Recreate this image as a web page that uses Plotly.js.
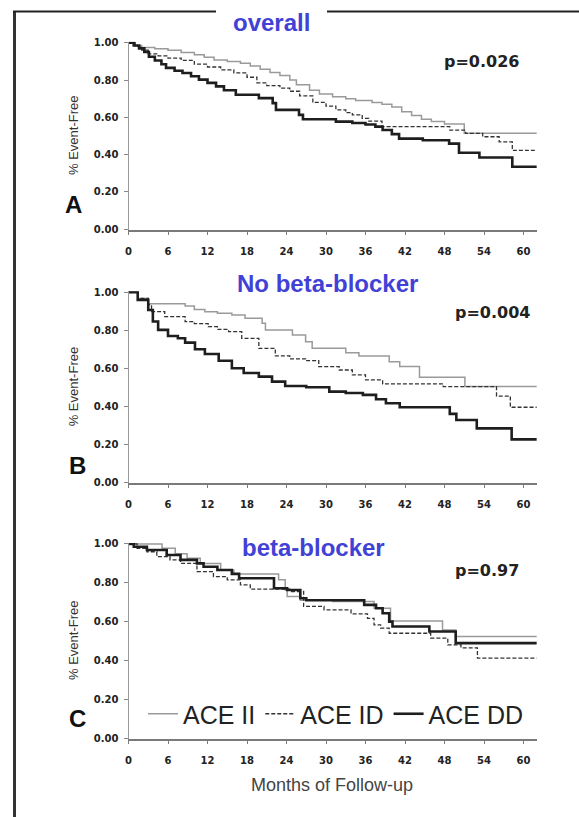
<!DOCTYPE html>
<html>
<head>
<meta charset="utf-8">
<script src="https://cdn.plot.ly/plotly-3.0.1.min.js"></script>
<style>html,body{margin:0;padding:0;background:#fff;}#chart{width:579px;height:817px;}</style>
</head>
<body>
<div id="chart"></div>
<script>
// ---------- DATA (months, event-free proportion) ----------
const seriesNames = ['ACE II', 'ACE ID', 'ACE DD'];
const panelTitles = ['overall', 'No beta-blocker', 'beta-blocker'];
const panelLetters = ['A', 'B', 'C'];
const pValues = ['p=0.026', 'p=0.004', 'p=0.97'];
const xTickVals = [0, 6, 12, 18, 24, 30, 36, 42, 48, 54, 60];
const yTickVals = [0, 0.2, 0.4, 0.6, 0.8, 1.0];
const yTickText = ['0.00', '0.20', '0.40', '0.60', '0.80', '1.00'];
const xTitle = 'Months of Follow-up';
const yTitle = '% Event-Free';

// Panel A: overall
const A_II_t = [0, 1, 2, 4, 6, 8, 10, 11.5, 13, 15, 17, 18.5, 20, 21.5, 23, 24.5, 25.5, 27.5, 29, 31, 33, 34.5, 37, 38.5, 40, 41.5, 43, 44.5, 46, 48, 51, 62];
const A_II_s = [1, 0.985, 0.975, 0.968, 0.96, 0.948, 0.935, 0.922, 0.908, 0.9, 0.89, 0.875, 0.858, 0.84, 0.825, 0.8, 0.775, 0.745, 0.725, 0.71, 0.7, 0.69, 0.68, 0.67, 0.655, 0.63, 0.61, 0.59, 0.578, 0.565, 0.515, 0.515];
const A_ID_t = [0, 1, 2, 3, 4.5, 6, 8, 10, 12, 14, 16, 18, 19.5, 21, 23, 24.5, 26, 28, 30, 31.5, 33, 34, 35.5, 36.5, 38.5, 48.8, 51.2, 53.8, 56.3, 58.3, 62];
const A_ID_s = [1, 0.98, 0.96, 0.94, 0.93, 0.918, 0.905, 0.885, 0.87, 0.855, 0.838, 0.815, 0.785, 0.77, 0.757, 0.74, 0.715, 0.68, 0.66, 0.64, 0.625, 0.613, 0.595, 0.58, 0.55, 0.532, 0.514, 0.496, 0.468, 0.423, 0.423];
const A_DD_t = [0, 0.8, 1.6, 2.4, 3.1, 4, 5, 5.7, 7, 8.2, 9.5, 10.7, 12, 13.3, 14.5, 16.3, 19.8, 21.9, 22.4, 25.9, 26.5, 31.5, 34, 36, 37.5, 38.6, 40, 41.1, 44.7, 48.7, 50.2, 53.3, 58.3, 62];
const A_DD_s = [1, 0.985, 0.97, 0.95, 0.925, 0.905, 0.885, 0.865, 0.85, 0.838, 0.82, 0.802, 0.785, 0.766, 0.745, 0.721, 0.703, 0.676, 0.64, 0.613, 0.59, 0.577, 0.57, 0.562, 0.55, 0.532, 0.51, 0.486, 0.477, 0.459, 0.41, 0.385, 0.335, 0.335];

// Panel B: no beta-blocker
const B_II_t = [0, 1.4, 3, 8.6, 10, 11.6, 13.5, 15.7, 17.7, 20.3, 20.8, 24.9, 26.9, 27.9, 33, 35, 39.6, 41.2, 44.2, 51.1, 62];
const B_II_s = [1, 0.968, 0.94, 0.928, 0.91, 0.898, 0.89, 0.881, 0.863, 0.837, 0.802, 0.775, 0.74, 0.705, 0.682, 0.665, 0.635, 0.609, 0.553, 0.504, 0.504];
const B_ID_t = [0, 1.4, 3, 3.5, 5.5, 8.6, 10, 12.1, 13.5, 15.2, 17.2, 19.8, 22.3, 24.5, 26.9, 28.9, 32, 34, 36, 38.6, 47.8, 55.9, 58, 62];
const B_ID_s = [1, 0.968, 0.935, 0.898, 0.872, 0.846, 0.835, 0.819, 0.805, 0.793, 0.758, 0.705, 0.665, 0.65, 0.64, 0.609, 0.591, 0.565, 0.539, 0.518, 0.504, 0.454, 0.395, 0.395];
const B_DD_t = [0, 1.4, 3, 3.7, 4.5, 6, 7.5, 8.6, 10.1, 11.6, 13.7, 15.7, 17.5, 19.8, 21.8, 23.8, 27, 30.5, 33, 35.6, 37.6, 39.1, 41.2, 48.8, 49.8, 52.9, 58.2, 62];
const B_DD_s = [1, 0.96, 0.907, 0.846, 0.802, 0.77, 0.758, 0.735, 0.7, 0.675, 0.64, 0.6, 0.575, 0.556, 0.53, 0.507, 0.5, 0.477, 0.47, 0.46, 0.437, 0.416, 0.395, 0.36, 0.328, 0.284, 0.226, 0.226];

// Panel C: beta-blocker
const C_II_t = [0, 5.1, 7.1, 8.9, 10.9, 14, 16, 22.8, 23.8, 24.1, 26.1, 31, 37.3, 39.8, 47.7, 49.7, 62];
const C_II_s = [1, 0.978, 0.949, 0.926, 0.9, 0.866, 0.845, 0.815, 0.763, 0.729, 0.71, 0.703, 0.669, 0.603, 0.557, 0.523, 0.523];
const C_ID_t = [0, 1.3, 2.8, 4.3, 6.3, 7.9, 10.4, 12.9, 15, 17, 18.5, 24.5, 26.6, 29.7, 33.8, 36.3, 37.3, 38.3, 39.6, 45.9, 48.5, 50.5, 53, 62];
const C_ID_s = [1, 0.978, 0.96, 0.935, 0.918, 0.9, 0.858, 0.832, 0.815, 0.789, 0.767, 0.755, 0.678, 0.66, 0.64, 0.617, 0.583, 0.566, 0.54, 0.515, 0.48, 0.465, 0.412, 0.412];
const C_DD_t = [0, 0.8, 2.8, 5.8, 7.9, 10.4, 11.4, 13.5, 15.7, 16.8, 22.1, 24.1, 26.1, 27, 35.8, 37.6, 38.6, 39.6, 40.1, 45.7, 49.7, 62];
const C_DD_s = [1, 0.986, 0.969, 0.943, 0.918, 0.9, 0.883, 0.866, 0.846, 0.823, 0.772, 0.763, 0.72, 0.71, 0.686, 0.669, 0.643, 0.6, 0.575, 0.549, 0.489, 0.489];

// ---------- LAYOUT HELPERS ----------
const W = 579, H = 817;
const fx = v => v / W;
const fy = v => 1 - v / H;

const panels = [
  {t: [A_II_t, A_ID_t, A_DD_t], s: [A_II_s, A_ID_s, A_DD_s], top: 41.8, bot: 230.2},
  {t: [B_II_t, B_ID_t, B_DD_t], s: [B_II_s, B_ID_s, B_DD_s], top: 291.35, bot: 483.25},
  {t: [C_II_t, C_ID_t, C_DD_t], s: [C_II_s, C_ID_s, C_DD_s], top: 543, bot: 739}
];
const styles = [
  {color: '#9a9a9a', width: 1.5, dash: 'solid'},
  {color: '#333333', width: 1.3, dash: '4px,2px'},
  {color: '#1e1e1e', width: 2.6, dash: 'solid'}
];

const traces = [];
const layout = {
  width: W, height: H,
  margin: {l: 0, r: 0, t: 0, b: 0},
  paper_bgcolor: '#ffffff',
  plot_bgcolor: 'rgba(0,0,0,0)',
  showlegend: true,
  legend: {
    orientation: 'h', x: fx(143), y: fy(714), xanchor: 'left', yanchor: 'middle',
    bgcolor: 'rgba(0,0,0,0)', borderwidth: 0,
    font: {family: 'Liberation Sans, Arial, sans-serif', size: 25, color: '#222'},
    traceorder: 'normal'
  },
  annotations: [],
  shapes: []
};

const tickFont = {family: 'DejaVu Sans, sans-serif', size: 10, color: '#222', weight: 'bold'};

panels.forEach((p, i) => {
  const k = i === 0 ? '' : String(i + 1);
  for (let j = 0; j < 3; j++) {
    traces.push({
      type: 'scatter', mode: 'lines',
      x: p.t[j], y: p.s[j],
      xaxis: 'x' + k, yaxis: 'y' + k,
      name: seriesNames[j],
      line: {color: styles[j].color, width: styles[j].width, dash: styles[j].dash, shape: 'hv'},
      showlegend: i === 2,
      hoverinfo: 'skip'
    });
  }
  layout['xaxis' + k] = {
    domain: [fx(128.5), fx(537)], range: [0, 62.05], anchor: 'y' + k,
    tickmode: 'array', tickvals: xTickVals, ticktext: xTickVals.map(String),
    showline: true, linecolor: '#7a7a7a', linewidth: 1.5,
    ticks: 'outside', ticklen: 3, tickcolor: '#7a7a7a', tickwidth: 1,
    ticklabelstandoff: 8,
    tickfont: tickFont, showgrid: false, zeroline: false, fixedrange: true
  };
  layout['yaxis' + k] = {
    domain: [fy(p.bot), fy(p.top)], range: [-0.005, 1.005], anchor: 'x' + k,
    tickmode: 'array', tickvals: yTickVals, ticktext: yTickText,
    showline: true, linecolor: '#9a9a9a', linewidth: 1,
    ticks: 'outside', ticklen: 4, tickcolor: '#8a8a8a', tickwidth: 1,
    ticklabelstandoff: 3,
    tickfont: tickFont, showgrid: false, zeroline: false, fixedrange: true
  };
  // y title
  layout.annotations.push({
    xref: 'paper', yref: 'paper', x: fx(73), y: fy((p.top + p.bot) / 2),
    text: yTitle, textangle: -90, showarrow: false, xanchor: 'center', yanchor: 'middle',
    font: {family: 'Liberation Sans, Arial, sans-serif', size: 13, color: '#333'}
  });
});

const titlePos = [[271, 22], [327, 283], [313, 547]];
const pPos = [[481, 62], [492, 312], [487, 570]];
const letterPos = [[73, 204], [77, 465], [77, 718]];
for (let i = 0; i < 3; i++) {
  layout.annotations.push({
    xref: 'paper', yref: 'paper', x: fx(titlePos[i][0]), y: fy(titlePos[i][1]),
    text: panelTitles[i], showarrow: false, xanchor: 'center', yanchor: 'middle',
    font: {family: 'Liberation Sans, Arial, sans-serif', size: 24, color: '#4141d6', weight: 'bold'}
  });
  layout.annotations.push({
    xref: 'paper', yref: 'paper', x: fx(pPos[i][0]), y: fy(pPos[i][1]),
    text: pValues[i], showarrow: false, xanchor: 'center', yanchor: 'middle',
    font: {family: 'DejaVu Sans, sans-serif', size: 16, color: '#222', weight: 'bold'}
  });
  layout.annotations.push({
    xref: 'paper', yref: 'paper', x: fx(letterPos[i][0]), y: fy(letterPos[i][1]),
    text: panelLetters[i], showarrow: false, xanchor: 'center', yanchor: 'middle',
    font: {family: 'Liberation Sans, Arial, sans-serif', size: 24, color: '#111', weight: 'bold'}
  });
}
layout.annotations.push({
  xref: 'paper', yref: 'paper', x: fx(332), y: fy(785),
  text: xTitle, showarrow: false, xanchor: 'center', yanchor: 'middle',
  font: {family: 'Liberation Sans, Arial, sans-serif', size: 18, color: '#444'}
});

// outer frame (left and top, with a gap for the first title)
layout.shapes.push(
  {type: 'line', xref: 'paper', yref: 'paper', x0: fx(14.5), x1: fx(14.5), y0: fy(11), y1: fy(817), line: {color: '#333', width: 3}},
  {type: 'line', xref: 'paper', yref: 'paper', x0: fx(13), x1: fx(216), y0: fy(11.5), y1: fy(11.5), line: {color: '#222', width: 2}},
  {type: 'line', xref: 'paper', yref: 'paper', x0: fx(327), x1: fx(579), y0: fy(11.5), y1: fy(11.5), line: {color: '#222', width: 2}}
);

Plotly.newPlot('chart', traces, layout, {displayModeBar: false, staticPlot: true});
</script>
</body>
</html>
